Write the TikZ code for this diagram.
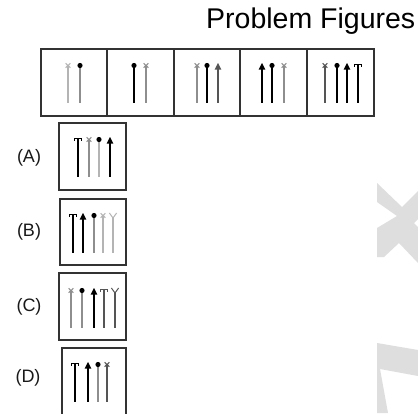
\documentclass[tikz,border=0pt]{standalone}
\usepackage{fontspec}
\setmainfont{Liberation Sans}
\definecolor{lg}{HTML}{B4B4B4}
\definecolor{mg}{HTML}{8E8E8E}
\definecolor{dg}{HTML}{555555}
\definecolor{wm}{HTML}{DEDEDE}
\definecolor{framec}{HTML}{333333}
\tikzset{
  stem/.style={line width=1.4pt},
  headline/.style={line width=1pt},
  framebox/.style={draw=framec, line width=1.1pt},
  lab/.style={font=\fontsize{18}{20}\selectfont, text=black!90},
}
% #1 = x, #2 = top y, #3 = colour
\newcommand\mkdot[3]{\draw[stem,#3] (#1,#2+2.5) -- (#1,#2+40); \fill[black] (#1,#2+2.5) circle (2.6);}
\newcommand\mkcross[3]{\draw[stem,#3] (#1,#2+2.5) -- (#1,#2+40); \draw[headline,#3] (#1-2.4,#2+0.3) -- (#1+2.4,#2+4.7) (#1-2.4,#2+4.7) -- (#1+2.4,#2+0.3);}
\newcommand\mktri[3]{\draw[stem,#3] (#1,#2+5) -- (#1,#2+40); \fill[#3] (#1,#2) -- (#1+3.3,#2+6.5) -- (#1-3.3,#2+6.5) -- cycle;}
\newcommand\mktee[3]{\draw[stem,#3] (#1,#2+1) -- (#1,#2+40); \draw[headline,#3] (#1-3.6,#2+3.8) -- (#1-3.6,#2+1) -- (#1+3.6,#2+1) -- (#1+3.6,#2+3.8);}
\newcommand\mkwye[3]{\draw[stem,#3] (#1,#2+5) -- (#1,#2+40); \draw[headline,#3] (#1-3.6,#2) -- (#1,#2+5) -- (#1+3.6,#2);}
\begin{document}
\begin{tikzpicture}[x=1pt,y=-1pt]
\fill[white] (0,0) rectangle (418,413);
\useasboundingbox (0,0) rectangle (418,413);
% watermark
\fill[wm] (377,183) -- (402,207) -- (418,191) -- (418,219) -- (414,223) -- (418,227) -- (418,263) -- (399,243) -- (384,257) -- (377,257) -- (377,228) -- (397,216) -- (377,202) -- cycle;
\fill[wm] (377,343) -- (418,350) -- (418,376) -- (380,369) -- (388,413) -- (377,413) -- cycle;
% title
\node[anchor=base west, font=\fontsize{28.5}{31}\selectfont, inner sep=0pt] (title) at (206,28) {Problem Figures};
% problem figures strip
\draw[framebox] (41,49) rectangle (374,116);
\foreach \xx in {107,174,240,307} \draw[framebox] (\xx,49) -- (\xx,116);
\mkcross{68}{63}{lg}\mkdot{80}{63}{mg}
\mkdot{134}{63}{black}\mkcross{146}{63}{mg}
\mkcross{197}{63}{mg}\mkdot{207}{63}{black}\mktri{218}{63}{dg}
\mktri{262}{63}{black}\mkdot{272}{63}{black}\mkcross{284}{63}{mg}
\mkcross{325}{63}{dg}\mkdot{337}{63}{black}\mktri{347}{63}{black}\mktee{358}{63}{black}
% answer figures
\node[lab] (la) at (29,158) {(A)};
\node[lab] (lb) at (29,232) {(B)};
\node[lab] (lc) at (29,307) {(C)};
\node[lab] (ld) at (28,378) {(D)};
\draw[framebox] (59,123) rectangle (126,190);
\mktee{78}{137}{black}\mkcross{89}{137}{mg}\mkdot{99}{137}{lg}\mktri{110}{137}{black}
\draw[framebox] (60,199) rectangle (126,265);
\mktee{73}{213}{black}\mktri{83}{213}{black}\mkdot{94}{213}{mg}\mkcross{103}{213}{lg}\mkwye{113}{213}{lg}
\draw[framebox] (59,273) rectangle (126,340);
\mkcross{71}{288}{mg}\mkdot{82}{288}{mg}\mktri{94}{288}{black}\mktee{104}{288}{dg}\mkwye{115}{288}{dg}
\draw[framebox] (62,414) -- (62,348) -- (126,348) -- (126,414);
\mktee{75}{362}{black}\mktri{88}{362}{black}\mkdot{98}{362}{mg}\mkcross{107}{362}{dg}
\end{tikzpicture}
\end{document}
